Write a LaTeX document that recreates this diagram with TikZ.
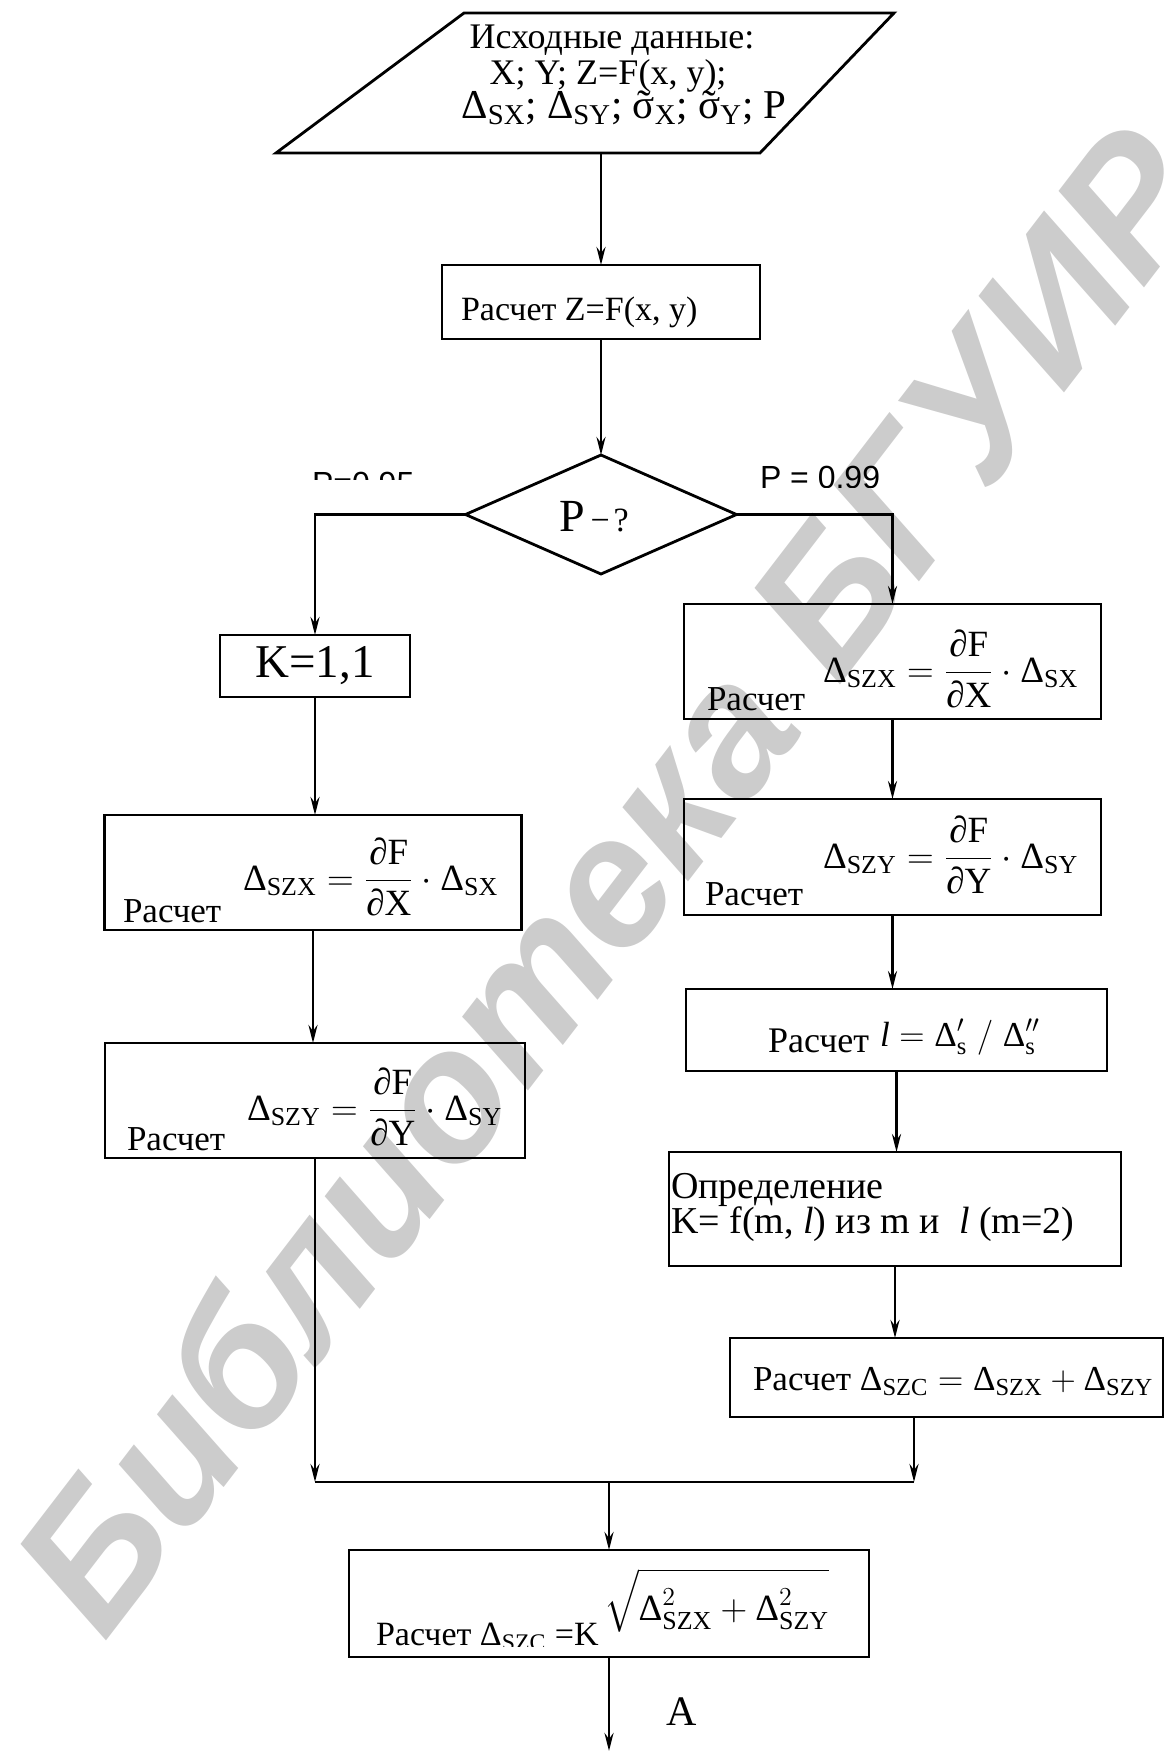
\RequirePackage{fix-cm}
\documentclass[tikz,border=0pt]{standalone}
\usepackage{amsmath}
\usepackage{fontspec}
\setmainfont{Liberation Serif}
\newfontfamily\sansfam{Liberation Sans}
\usetikzlibrary{arrows.meta,shapes.geometric}

% Delta with an upright subscript, for use in math mode
\newcommand\dl[1]{\text{Δ}_{\text{#1}}}
% sigma with a tilde above it
\newcommand\sigtil{\ooalign{σ\cr\hidewidth\char"02DC\hidewidth\cr}}
\newcommand\fsz[1]{\fontsize{#1}{#1}\selectfont}

\tikzset{
  box/.style={draw, line width=1.4pt, inner sep=0pt, outer sep=0pt},
  dia/.style={draw, shape=diamond, line width=1.4pt, inner sep=0pt, outer sep=0pt},
  dims/.style 2 args={minimum width=#1*0.5pt, minimum height=#2*0.5pt},
  flow/.style={line width=1.4pt, -{Stealth[length=9pt,width=4.5pt,inset=3pt]}},
  wire/.style={line width=1.4pt},
  txt/.style={inner sep=0pt, outer sep=0pt, anchor=base west},
  ctxt/.style={inner sep=0pt, outer sep=0pt, anchor=base},
  plabel/.style={inner sep=0pt, outer sep=0pt, anchor=north west, font=\sansfam\fsz{16}},
  wm/.style={inner sep=0pt, text=black!20, font=\sansfam\bfseries\itshape\fsz{92}},
}

\begin{document}
\begin{tikzpicture}[x=0.5pt,y=-0.5pt]
\useasboundingbox (0,0) rectangle (1175,1753);

% background watermark
\node[wm, rotate=52.5] (wmark) at (608,878) {Библиотека БГУИР};

% input data (parallelogram)
\draw[wire] (464,13) -- (894,13) -- (760,153) -- (276,153) -- cycle;
\coordinate (inB) at (601,153);
\node[ctxt, font=\fsz{18}] (in1) at (612,48) {Исходные данные:};
\node[ctxt, font=\fsz{18}] (in2) at (608,84) {X; Y; Z=F(x, y);};
\node[ctxt, font=\fsz{20.5}] (in3) at (624,118)
  {$\dl{SX}$; $\dl{SY}$; \sigtil$_{\text{X}}$; \sigtil$_{\text{Y}}$; P};

% Z = F(x, y)
\node[box, dims={318}{74}] (calc) at (601,302) {};
\node[txt, font=\fsz{17}] (calcT) at (461,320) {Расчет Z=F(x, y)};
\draw[flow] (inB) -- (calc.north);

% decision on P
\node[dia, dims={271}{119}] (dec) at (601,514.5) {};
\draw[flow] (calc.south) -- (dec.north);
\node[txt] (decT) at (559,531) {{\fsz{23}P}\hspace{3pt}{\fsz{17}−\hspace{2pt}?}};

\begin{scope}
  \clip (300,440) rectangle (430,479);
  \node[plabel] (p95) at (312,472) {P=0.95};
\end{scope}
\begin{scope}
  \clip (750,440) rectangle (900,487);
  \node[plabel] (p99) at (760,466) {P = 0.99};
\end{scope}

% left branch, P = 0.95
\node[box, dims={190}{62}, font=\fsz{23.5}] (kbox) at (315,666) {K=1,1};
\draw[flow] (dec.west) -| (kbox.north);

\node[box, dims={417}{115}] (L1) at (313,872.5) {};
\draw[flow] (kbox.south) -- (kbox.south |- L1.north);
\node[txt, font=\fsz{17.5}] (L1a) at (123,922) {Расчет};
\node[txt, font=\fsz{18.5}] (L1b) at (243,890)
  {$\dl{SZX} = \dfrac{\text{∂F}}{\text{∂X}}\cdot\dl{SX}$};

\node[box, dims={420}{115}] (L2) at (315,1100.5) {};
\draw[flow] (L1.south) -- (L1.south |- L2.north);
\node[txt, font=\fsz{17.5}] (L2a) at (127,1150) {Расчет};
\node[txt, font=\fsz{18.5}] (L2b) at (247,1120)
  {$\dl{SZY} = \dfrac{\text{∂F}}{\text{∂Y}}\cdot\dl{SY}$};

% right branch, P = 0.99
\node[box, dims={417}{115}] (R1) at (892.5,661.5) {};
\draw[flow] (dec.east) -| (R1.north);
\node[txt, font=\fsz{17.5}] (R1a) at (707,710) {Расчет};
\node[txt, font=\fsz{18.5}] (R1b) at (823,682)
  {$\dl{SZX} = \dfrac{\text{∂F}}{\text{∂X}}\cdot\dl{SX}$};

\node[box, dims={417}{116}] (R2) at (892.5,857) {};
\draw[flow] (R1.south) -- (R2.north);
\node[txt, font=\fsz{17.5}] (R2a) at (705,905) {Расчет};
\node[txt, font=\fsz{18.5}] (R2b) at (823,868)
  {$\dl{SZY} = \dfrac{\text{∂F}}{\text{∂Y}}\cdot\dl{SY}$};

\node[box, dims={421}{82}] (R3) at (896.5,1030) {};
\draw[flow] (R2.south) -- (R2.south |- R3.north);
\node[txt, font=\fsz{18}] (R3a) at (768,1052) {Расчет};
\node[txt, font=\fsz{17.5}] (R3b) at (880,1046)
  {$\textit{l} = \text{Δ}'_{\text{s}}\;/\;\text{Δ}''_{\text{s}}$};

\node[box, dims={452}{114}] (R4) at (895,1209) {};
\draw[flow] (R3.south) -- (R3.south |- R4.north);
\node[txt, font=\fsz{19}] (R4a) at (671,1198) {Определение};
\node[txt, font=\fsz{19}] (R4b) at (671,1233)
  {K= f(m, \textit{l}) из m и\ \ \textit{l} (m=2)};

\node[box, dims={433}{79}] (R5) at (946.5,1377.5) {};
\draw[flow] (R4.south) -- (R4.south |- R5.north);
\node[txt, font=\fsz{17.5}] (R5a) at (753,1390)
  {Расчет $\dl{SZC} = \dl{SZX} + \dl{SZY}$};

% merging of both branches
\coordinate (mL) at (317,1482);
\coordinate (mR) at (914,1482);
\coordinate (mC) at (609,1482);
\draw[flow] (L2.south) -- (L2.south |- mL);
\draw[flow] (mR |- R5.south) -- (mR);
\draw[wire] (L2.south |- mL) -- (mR);

% total error
\node[box, dims={520}{107}] (fin) at (609,1603.5) {};
\draw[flow] (mC) -- (mC |- fin.north);
\begin{scope}
  \clip (350,1540) rectangle (870,1646);
  \node[txt, font=\fsz{17}] (finA) at (376,1645) {Расчет $\dl{SZC}$ =K};
\end{scope}
\node[txt, font=\fsz{18.5}] (finB) at (604,1620)
  {$\sqrt{\rule{0pt}{1.2em}\text{Δ}^{2}_{\text{SZX}} + \text{Δ}^{2}_{\text{SZY}}}$};

\coordinate (outA) at (609,1751);
\draw[flow] (fin.south) -- (outA);
\node[inner sep=0pt, font=\fsz{21}] (labA) at (682,1712) {A};
\end{tikzpicture}
\end{document}
